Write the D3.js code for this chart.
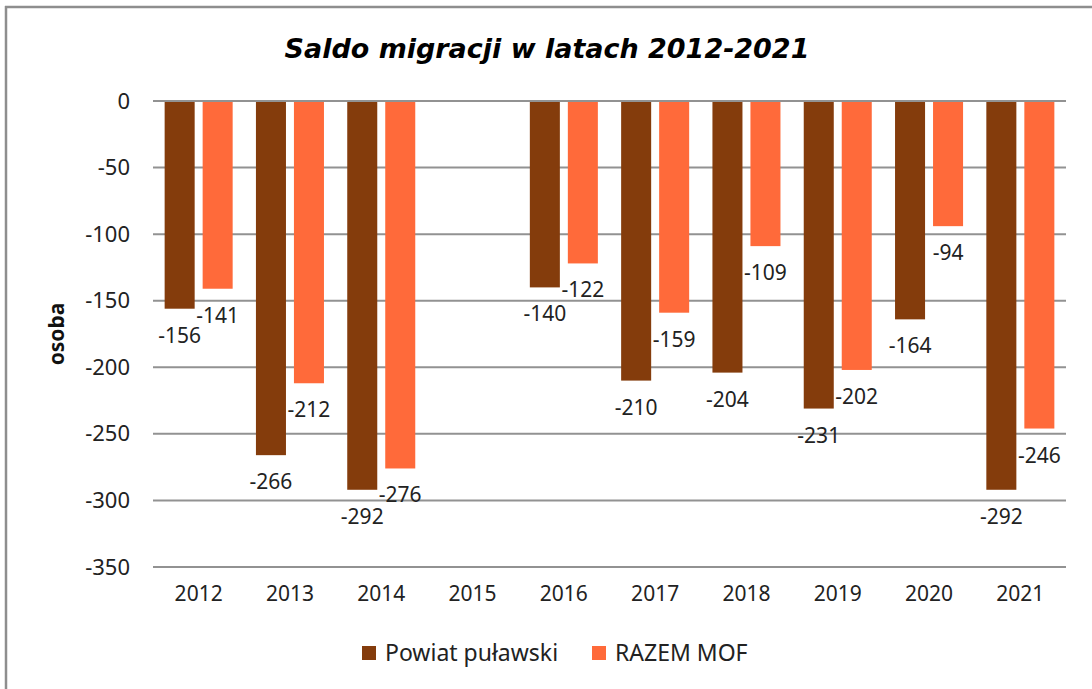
<!DOCTYPE html>
<html>
<head>
<meta charset="utf-8">
<script src="https://cdn.jsdelivr.net/npm/d3@7"></script>
<style>
  html, body { margin: 0; padding: 0; background: #fff; }
  svg { display: block; }
</style>
</head>
<body>
<svg id="chart" width="1092" height="689"></svg>
<script>
const years = ["2012","2013","2014","2015","2016","2017","2018","2019","2020","2021"];
const seriesNames = ["Powiat puławski", "RAZEM MOF"];
const powiat = [-156, -266, -292, null, -140, -210, -204, -231, -164, -292];
const mof = [-141, -212, -276, null, -122, -159, -109, -202, -94, -246];
const yTicks = [0, -50, -100, -150, -200, -250, -300, -350];
const colors = ["#843C0C", "#FF6A3A"];
const title = "Saldo migracji w latach 2012-2021";
const yLabel = "osoba";

const svg = d3.select("#chart");
const W = 1092, H = 689;
const plot = { left: 153, right: 1066, top: 101, bottom: 567 };
const textFont = "'Noto Sans', 'Open Sans', sans-serif";
const textColor = "#222";

// frame (top and left edges visible)
svg.append("line").attr("x1", 5).attr("x2", W).attr("y1", 7).attr("y2", 7)
  .attr("stroke", "#8e8e8e").attr("stroke-width", 2.5);
svg.append("line").attr("x1", 6).attr("x2", 6).attr("y1", 6).attr("y2", H)
  .attr("stroke", "#8e8e8e").attr("stroke-width", 2.5);

const x0 = d3.scaleBand().domain(years).range([plot.left, plot.right])
  .paddingInner(0.255).paddingOuter(0.1275);
const x1 = d3.scaleBand().domain(seriesNames).range([0, x0.bandwidth()]).paddingInner(0.21);
const y = d3.scaleLinear().domain([-350, 0]).range([plot.bottom, plot.top]);

// gridlines
svg.append("g").selectAll("line").data(yTicks).join("line")
  .attr("x1", plot.left).attr("x2", plot.right)
  .attr("y1", d => y(d)).attr("y2", d => y(d))
  .attr("stroke", "#929292").attr("stroke-width", 2);

// y axis tick labels
const yAxis = d3.axisLeft(y).tickValues(yTicks).tickSize(0).tickPadding(0).tickFormat(d3.format("d"));
const yg = svg.append("g").attr("transform", `translate(130,0)`).call(yAxis);
yg.select(".domain").remove();
yg.selectAll("text").attr("font-family", textFont).attr("font-size", 22).attr("fill", textColor)
  .text(d => String(d).replace("−", "-"));

// x axis labels
const xAxis = d3.axisBottom(x0).tickSize(0).tickPadding(0);
const xg = svg.append("g").attr("transform", `translate(0,586)`).call(xAxis);
xg.select(".domain").remove();
xg.selectAll("text").attr("font-family", textFont).attr("font-size", 21).attr("fill", textColor)
  .attr("dy", "0.71em");

// bars
const data = [];
years.forEach((yr, i) => {
  [powiat, mof].forEach((arr, s) => {
    if (arr[i] !== null) data.push({ year: yr, series: seriesNames[s], value: arr[i], color: colors[s] });
  });
});

svg.append("g").selectAll("rect").data(data).join("rect")
  .attr("x", d => x0(d.year) + x1(d.series))
  .attr("width", x1.bandwidth())
  .attr("y", y(0) + 1)
  .attr("height", d => y(d.value) - y(0) - 1)
  .attr("fill", d => d.color);

// data labels
svg.append("g").selectAll("text").data(data).join("text")
  .attr("x", d => x0(d.year) + x1(d.series) + x1.bandwidth() / 2)
  .attr("y", d => y(d.value) + 34)
  .attr("text-anchor", "middle")
  .attr("font-family", textFont).attr("font-size", 21).attr("fill", textColor)
  .text(d => String(d.value));

// y label
svg.append("text")
  .attr("transform", `translate(64,${(plot.top + plot.bottom) / 2}) rotate(-90)`)
  .attr("text-anchor", "middle")
  .attr("font-family", textFont).attr("font-weight", "bold").attr("font-size", 21).attr("fill", "#111")
  .text(yLabel);

// title
const t = svg.append("text")
  .attr("x", 547).attr("y", 58)
  .attr("text-anchor", "middle")
  .attr("font-family", "'DejaVu Sans', sans-serif").attr("font-weight", "bold").attr("font-style", "italic")
  .attr("font-size", 26).attr("fill", "#000")
  .text(title);
const tw = t.node().getComputedTextLength();
t.attr("font-size", 26 * 525 / tw);

// legend
const legend = svg.append("g");
const legX = [362, 592];
seriesNames.forEach((name, i) => {
  legend.append("rect").attr("x", legX[i]).attr("y", 646).attr("width", 14).attr("height", 14).attr("fill", colors[i]);
  legend.append("text").attr("x", legX[i] + 23).attr("y", 661)
    .attr("font-family", textFont).attr("font-size", 23).attr("fill", textColor)
    .text(name);
});
</script>
</body>
</html>
